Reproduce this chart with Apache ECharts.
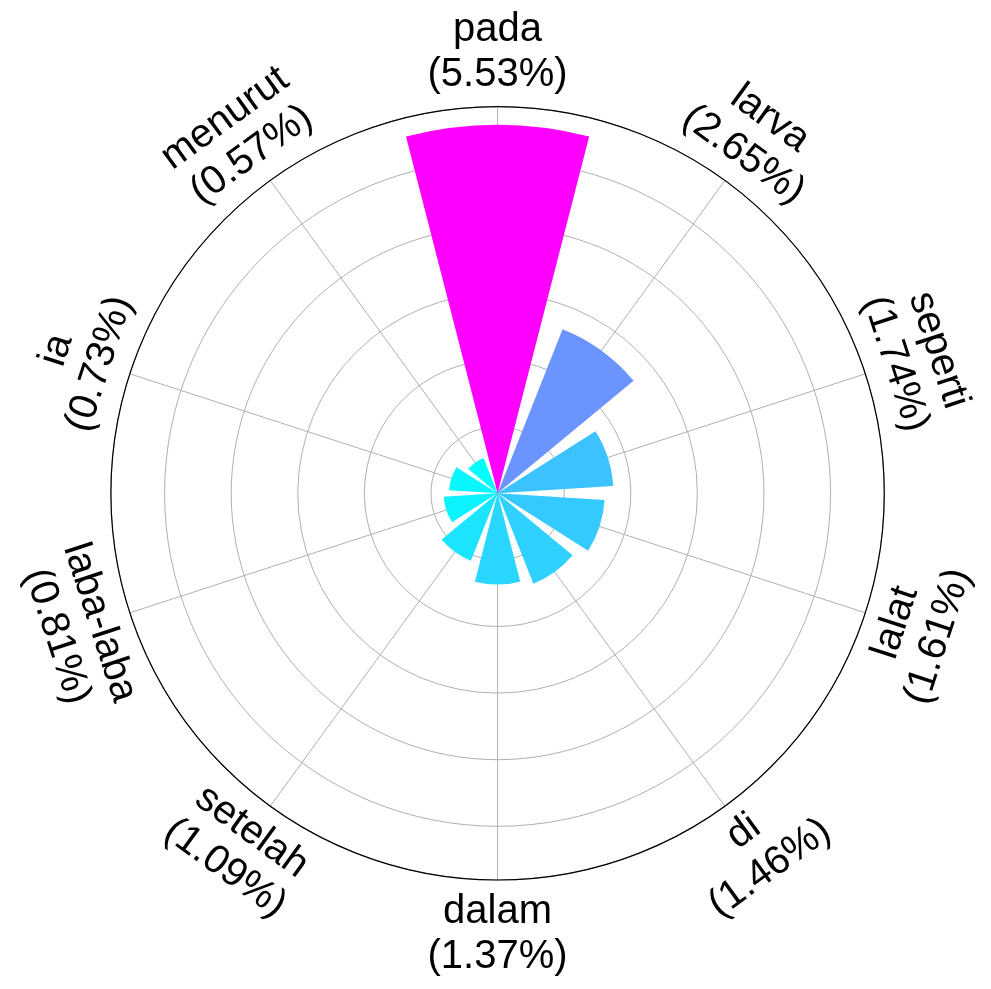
<!DOCTYPE html>
<html>
<head>
<meta charset="utf-8">
<script src="https://cdn.jsdelivr.net/npm/echarts@6/dist/echarts.min.js"></script>
<style>
  html, body { margin: 0; padding: 0; background: #fff; }
  #chart { width: 991px; height: 989px; }
</style>
</head>
<body>
<div id="chart"></div>
<script>
const categories = ['pada', 'larva', 'seperti', 'lalat', 'di', 'dalam', 'setelah', 'laba-laba', 'ia', 'menurut'];
const values = [5.53, 2.65, 1.74, 1.61, 1.46, 1.37, 1.09, 0.81, 0.73, 0.57];
const radiusTicks = [0, 1, 2, 3, 4, 5];

const RADIUS_MAX = 5.8065;
const LABEL_R = 6.62;

// matplotlib "cool" colormap, normalised by min/max
const vmin = Math.min(...values), vmax = Math.max(...values);
function cool(v) {
  const t = (v - vmin) / (vmax - vmin);
  const r = Math.round(255 * t), g = Math.round(255 * (1 - t));
  return 'rgb(' + r + ',' + g + ',255)';
}

const chart = echarts.init(document.getElementById('chart'), null, { renderer: 'canvas' });
const n = categories.length;
const stepDeg = 360 / n;
const polarCenter = ['50.21%', '49.88%'];
const polarRadius = 386.7;

chart.setOption({
  animation: false,
  backgroundColor: '#ffffff',
  polar: [
    { center: polarCenter, radius: polarRadius },
    { center: polarCenter, radius: polarRadius }
  ],
  angleAxis: [
    {
      // grid polar: full circle, spokes at every category centre
      polarIndex: 0,
      type: 'value',
      min: 0,
      max: 360,
      interval: stepDeg,
      startAngle: 90,
      clockwise: true,
      z: 2,
      axisLine: { show: true, lineStyle: { color: '#000000', width: 1.2 } },
      axisTick: { show: false },
      axisLabel: { show: false },
      splitLine: { show: true, lineStyle: { color: '#b0b0b0', width: 1 } }
    },
    {
      // data polar: categories centred on the spokes
      polarIndex: 1,
      type: 'category',
      data: categories,
      boundaryGap: false,
      startAngle: 90,
      clockwise: true,
      axisLine: { show: false },
      axisTick: { show: false },
      axisLabel: { show: false },
      splitLine: { show: false }
    }
  ],
  radiusAxis: [
    {
      polarIndex: 0,
      type: 'value',
      min: radiusTicks[0],
      max: RADIUS_MAX,
      interval: radiusTicks[1] - radiusTicks[0],
      z: 1,
      axisLine: { show: false },
      axisTick: { show: false },
      axisLabel: { show: false },
      splitLine: { show: true, lineStyle: { color: '#b0b0b0', width: 1 } }
    },
    {
      polarIndex: 1,
      type: 'value',
      min: radiusTicks[0],
      max: RADIUS_MAX,
      axisLine: { show: false },
      axisTick: { show: false },
      axisLabel: { show: false },
      splitLine: { show: false }
    }
  ],
  series: [
    {
      type: 'bar',
      coordinateSystem: 'polar',
      polarIndex: 1,
      barCategoryGap: '20%',
      z: 5,
      data: values.map(v => ({ value: v, itemStyle: { color: cool(v) } }))
    },
    {
      type: 'custom',
      coordinateSystem: 'polar',
      polarIndex: 1,
      z: 6,
      silent: true,
      data: categories.map((c, i) => [LABEL_R, i]),
      renderItem: function (params, api) {
        const i = api.value(1);
        const p = api.coord([api.value(0), i]);
        const theta = i * stepDeg;
        let rotDeg = -theta;
        if (theta > 90 && theta < 270) rotDeg = 180 - theta;
        return {
          type: 'text',
          x: p[0],
          y: p[1],
          rotation: rotDeg * Math.PI / 180,
          style: {
            text: categories[i] + '\n(' + values[i].toFixed(2) + '%)',
            fill: '#000000',
            fontSize: 40,
            fontFamily: '"Liberation Sans", Arial, sans-serif',
            align: 'center',
            verticalAlign: 'middle',
            lineHeight: 45
          }
        };
      }
    }
  ]
});
</script>
</body>
</html>
